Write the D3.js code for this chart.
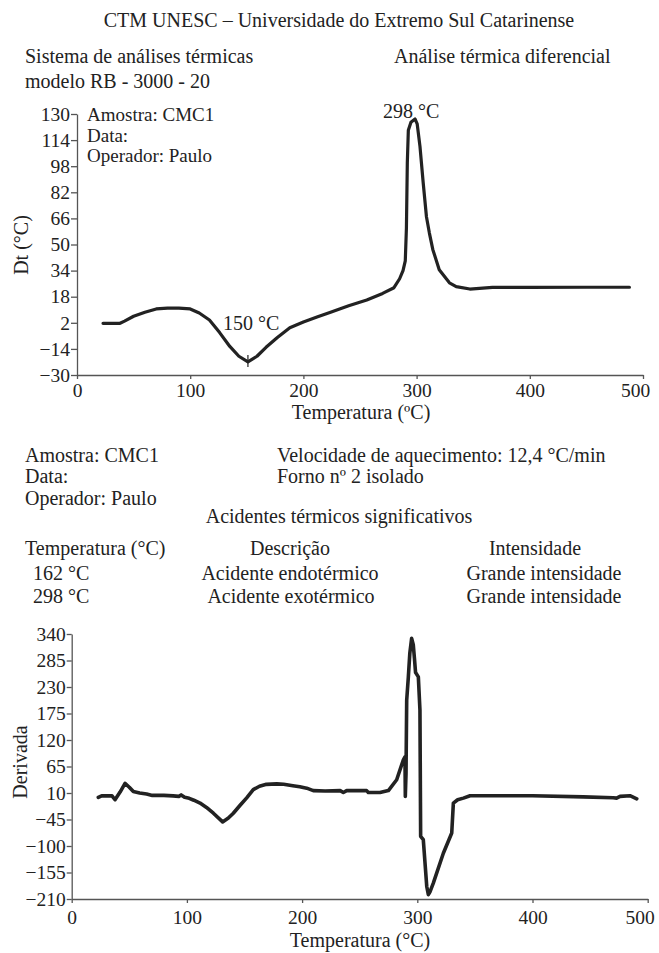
<!DOCTYPE html>
<html>
<head>
<meta charset="utf-8">
<script src="https://cdn.jsdelivr.net/npm/d3@7"></script>
<style>
  body { margin: 0; background: #fff; }
  svg { display: block; font-family: "Liberation Serif", "Times New Roman", serif; }
  .axis path, .axis line { stroke: #555; stroke-width: 1.3; }
  .axis text { font-family: "Liberation Serif", serif; font-size: 19.5px; fill: #222; }
  .txt { font-size: 20px; fill: #222; }
  .note { font-size: 19px; }
</style>
</head>
<body>
<svg id="chart" width="659" height="953"></svg>
<script>
// DTA curve (top): temperature (°C) and Dt (°C)
const dtaTemp = [23, 30, 38, 42, 50, 60, 70, 80, 90, 100, 108, 117, 126, 135, 143, 151, 159, 167, 177, 188, 200, 212, 224, 240, 256, 270, 280, 285, 288, 290, 291, 291.8, 292.7, 295, 298.6, 300.5, 303, 305.8, 308.7, 311.3, 314.3, 320, 329, 335, 347, 367, 400, 450, 488];
const dtaValue = [1.7, 1.7, 1.7, 3, 6, 8.5, 10.5, 11, 11, 10.5, 8, 3.7, -4, -12.5, -18.5, -22, -18.5, -13, -7, -1, 2.5, 5.5, 8.5, 12.5, 16, 20, 23.5, 29, 34, 40, 60, 100, 120, 125, 127, 124, 110, 88, 67, 57, 47, 34.5, 26.5, 24.2, 22.7, 23.7, 23.7, 23.8, 23.8];

// derivative curve (bottom)
const derTemp = [23.1, 26, 30, 35, 37.6, 42, 46.3, 50, 53.5, 59, 65, 70, 80, 88, 93, 95, 98, 102, 106, 111.4, 117, 123, 131, 136, 140.3, 146, 151.9, 157.6, 163, 169, 178, 184, 192, 198, 204, 209.7, 220, 233, 235.8, 238.7, 256, 257.5, 267.6, 274.9, 282.1, 287.9, 289.3, 289.6, 290.2, 290.8, 292.2, 293.5, 295.1, 296.5, 297.5, 298.5, 300.9, 302.3, 302.9, 305.2, 308.2, 309.6, 311, 313.9, 322.6, 329.9, 331.3, 335, 340, 345.8, 400, 444, 470, 473, 476, 484.6, 490.5];
const derValue = [0.7, 4, 4, 4, -4, 12, 30, 22, 13, 10, 8, 5, 5, 4, 3, 6, 1, -1, -5, -11, -20, -32, -50, -42, -32, -16, 0, 17, 24, 28, 29, 28, 25, 23, 20, 15, 14, 15, 11, 15, 15, 11, 11, 15, 37.5, 79, 85, 3, 50, 203, 250, 300, 331, 318, 290, 260, 251, 182, -80, -87, -184, -201, -195, -177, -115, -73, -11, -4, -0.6, 4.4, 4.4, 2, 0, -0.6, 3, 4.4, -2];

const xTicks = [0, 100, 200, 300, 400, 500];
const dtaTicks = [-30, -14, 2, 18, 34, 50, 66, 82, 98, 114, 130];
const derTicks = [-210, -155, -100, -45, 10, 65, 120, 175, 230, 285, 340];

const svg = d3.select("#chart");

function txt(x, y, s, anchor) {
  return svg.append("text").attr("class", "txt")
    .attr("x", x).attr("y", y)
    .attr("text-anchor", anchor || "start")
    .text(s);
}

// last x label sits a little left of its tick, as in the original
function nudgeLast(g) {
  g.selectAll(".tick text").filter(d => d === 500).attr("dx", -8);
}

// header texts
txt(339, 27, "CTM UNESC – Universidade do Extremo Sul Catarinense", "middle");
txt(25, 63, "Sistema de análises térmicas");
txt(25, 88, "modelo RB - 3000 - 20");
txt(394, 63, "Análise térmica diferencial");

// ---- top chart ----
const x1 = d3.scaleLinear().domain([0, 500]).range([77, 643]);
const y1 = d3.scaleLinear().domain([-30, 130]).range([375, 114]);

svg.append("g").attr("class", "axis")
  .attr("transform", "translate(0,375)")
  .call(d3.axisBottom(x1).tickValues(xTicks).tickSize(4).tickPadding(4).tickSizeOuter(0))
  .call(nudgeLast);
svg.append("g").attr("class", "axis")
  .attr("transform", "translate(77,0)")
  .call(d3.axisLeft(y1).tickValues(dtaTicks).tickSize(6).tickPadding(1).tickSizeOuter(0));

svg.append("path")
  .datum(dtaTemp.map((t, i) => [t, dtaValue[i]]))
  .attr("fill", "none").attr("stroke", "#222").attr("stroke-width", 3.2)
  .attr("stroke-linejoin", "round").attr("stroke-linecap", "round")
  .attr("d", d3.line().x(d => x1(d[0])).y(d => y1(d[1])));

// small marker at the endothermic minimum
svg.append("line")
  .attr("x1", x1(151)).attr("x2", x1(151))
  .attr("y1", y1(-22) - 7).attr("y2", y1(-22) + 5)
  .attr("stroke", "#222").attr("stroke-width", 1.2);

txt(223, 330, "150 °C");
txt(383, 118, "298 °C");
txt(87, 121, "Amostra: CMC1").classed("note", true);
txt(87, 141.5, "Data:").classed("note", true);
txt(87, 162, "Operador: Paulo").classed("note", true);

svg.append("text").attr("class", "txt")
  .attr("transform", "translate(28,245) rotate(-90)")
  .attr("text-anchor", "middle").text("Dt (°C)");
txt(361, 419, "Temperatura (ºC)", "middle");

// info block
txt(25, 462, "Amostra: CMC1");
txt(25, 483, "Data:");
txt(25, 505, "Operador: Paulo");
txt(277, 462, "Velocidade de aquecimento: 12,4 °C/min");
txt(277, 483, "Forno nº 2 isolado");
txt(339, 523, "Acidentes térmicos significativos", "middle");
txt(25, 555, "Temperatura (°C)");
txt(290, 555, "Descrição", "middle");
txt(535, 555, "Intensidade", "middle");
txt(33, 580, "162 °C");
txt(290, 580, "Acidente endotérmico", "middle");
txt(544, 580, "Grande intensidade", "middle");
txt(33, 603, "298 °C");
txt(291, 603, "Acidente exotérmico", "middle");
txt(544, 603, "Grande intensidade", "middle");

// ---- bottom chart ----
const x2 = d3.scaleLinear().domain([0, 500]).range([71.7, 647.7]);
const y2 = d3.scaleLinear().domain([-210, 340]).range([899, 634]);

svg.append("g").attr("class", "axis")
  .attr("transform", "translate(0,899)")
  .call(d3.axisBottom(x2).tickValues(xTicks).tickSize(4).tickPadding(7).tickSizeOuter(0))
  .call(nudgeLast);
svg.append("g").attr("class", "axis")
  .attr("transform", "translate(71.7,0)")
  .call(d3.axisLeft(y2).tickValues(derTicks).tickSize(5).tickPadding(1).tickSizeOuter(0));

svg.append("path")
  .datum(derTemp.map((t, i) => [t, derValue[i]]))
  .attr("fill", "none").attr("stroke", "#222").attr("stroke-width", 3.6)
  .attr("stroke-linejoin", "round").attr("stroke-linecap", "round")
  .attr("d", d3.line().x(d => x2(d[0])).y(d => y2(d[1])));

svg.append("text").attr("class", "txt")
  .attr("transform", "translate(27,762) rotate(-90)")
  .attr("text-anchor", "middle").text("Derivada");
txt(360, 947, "Temperatura (°C)", "middle");
</script>
</body>
</html>
